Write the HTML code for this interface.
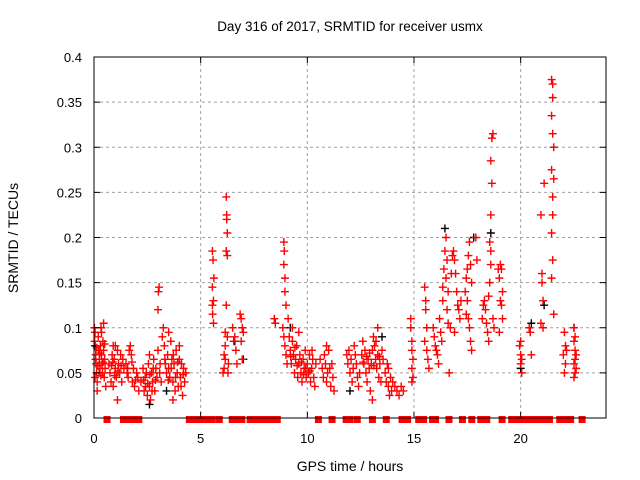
<!DOCTYPE html>
<html><head><meta charset="utf-8"><style>
body{margin:0;background:#fff}
svg{display:block;font-family:"Liberation Sans",sans-serif}
</style></head><body>
<svg id="c" width="640" height="480">
<text x="350" y="31" text-anchor="middle" font-size="13.5">Day 316 of 2017, SRMTID for receiver usmx</text>
<text x="350" y="471" text-anchor="middle" font-size="14">GPS time / hours</text>
<text transform="translate(18,238) rotate(-90)" text-anchor="middle" font-size="14">SRMTID / TECUs</text>
<g id="grid"></g><g id="zeros"></g><g id="black"></g><g id="red"></g><g id="axes"></g>
</svg>
<script>
const xTicks=[0,5,10,15,20];
const yTicks=[0,0.05,0.1,0.15,0.2,0.25,0.3,0.35,0.4];
const yTickLabels=["0","0.05","0.1","0.15","0.2","0.25","0.3","0.35","0.4"];
const zeroStart=[0.61,1.38,1.79,2.10,4.47,5.87,6.48,7.32,10.52,11.16,11.82,12.34,13.05,13.70,14.44,15.22,15.87,16.64,17.27,17.71,18.13,19.13,19.58,21.83,22.88];
const zeroEnd=[0.61,1.50,1.79,2.10,5.54,5.87,6.93,8.59,10.52,11.16,12.00,12.34,13.05,13.70,14.70,15.45,16.01,16.64,17.27,17.71,18.41,19.13,21.35,22.34,22.88];
const redPoints=[
[0.02,.1],[0.05,.095],[0.03,.085],[0.08,.07],[0.1,.06],[0.05,.045],[0.12,.05],[0.15,.04],[0.2,.09],[0.22,.075],[0.25,.065],[0.28,.055],[0.3,.08],[0.33,.1],[0.35,.07],[0.38,.06],[0.4,.05],[0.42,.085],[0.45,.075],[0.48,.045],[0.5,.065],[0.52,.055],[0.55,.035],[0.15,.03],[0.35,.095],[0.45,.105],
[0.07,.065],[0.18,.058],[0.27,.072],[0.32,.047],[0.43,.062],[0.5,.082],[0.13,.078],[0.24,.05],
[0.7,.06],[0.75,.05],[0.8,.04],[0.85,.07],[0.9,.08],[0.95,.065],[1.0,.055],[1.05,.045],[1.1,.075],[1.15,.06],[1.2,.05],[1.25,.07],[1.3,.04],[1.35,.065],[1.4,.055],[0.9,.035],[1.1,.02],[1.0,.08],
[0.82,.058],[0.97,.047],[1.12,.052],[1.27,.058],[0.88,.062],
[1.5,.06],[1.55,.05],[1.6,.045],[1.7,.08],[1.75,.07],[1.8,.04],[1.85,.055],[1.9,.035],[2.0,.05],[2.05,.045],[2.1,.03],[1.65,.075],
[1.58,.055],[1.78,.062],[1.95,.042],
[2.2,.04],[2.3,.055],[2.35,.03],[2.4,.045],[2.5,.025],[2.55,.06],[2.6,.035],[2.65,.02],[2.7,.05],[2.75,.04],[2.8,.065],[2.85,.03],[2.9,.055],[2.95,.045],[3.0,.075],[3.0,.12],[3.02,.14],[3.05,.145],[3.1,.06],[3.15,.04],[3.2,.09],[2.6,.07],[2.45,.05],
[2.32,.042],[2.52,.038],[2.62,.048],[2.72,.03],[2.78,.055],[2.88,.042],[3.08,.05],[2.42,.035],
[3.25,.1],[3.3,.08],[3.35,.06],[3.4,.05],[3.45,.07],[3.5,.055],[3.55,.045],[3.6,.085],[3.65,.065],[3.7,.04],[3.75,.06],[3.8,.03],[3.85,.075],[3.9,.05],[3.95,.035],[4.0,.065],[4.05,.045],[4.1,.06],[4.15,.025],[4.2,.055],[4.25,.04],[4.3,.05],[3.5,.095],[3.7,.02],[4.0,.08],
[3.32,.065],[3.48,.042],[3.62,.055],[3.72,.07],[3.82,.045],[3.92,.062],[4.08,.035],[4.18,.048],
[5.55,.185],[5.58,.175],[5.55,.145],[5.6,.13],[5.56,.115],[5.6,.105],[5.62,.155],[5.55,.125],
[6.05,.05],[6.1,.055],[6.15,.08],[6.15,.065],[6.2,.245],[6.22,.225],[6.22,.22],[6.25,.205],[6.2,.185],[6.25,.18],[6.2,.125],[6.15,.095],[6.25,.09],[6.3,.06],[6.28,.05],[6.1,.07],
[6.5,.1],[6.55,.085],[6.6,.09],[6.65,.075],[6.7,.06],[6.85,.115],[6.9,.11],[6.95,.1],[6.9,.085],[6.95,.065],[7.0,.095],
[8.45,.11],[8.5,.105],[8.9,.195],[8.92,.185],[8.9,.17],[8.95,.155],[8.95,.14],[9.0,.125],[8.85,.1],[8.9,.09],[8.95,.08],[9.0,.07],[9.05,.06],
[9.1,.11],[9.15,.09],[9.2,.075],[9.25,.06],[9.3,.085],[9.35,.07],[9.4,.05],[9.45,.065],[9.5,.08],[9.55,.045],[9.6,.06],[9.65,.07],[9.7,.05],[9.75,.04],[9.8,.065],[9.85,.055],[9.9,.075],[9.95,.045],[10.0,.06],[10.05,.05],[10.1,.07],[10.15,.04],[10.2,.055],[10.25,.065],[10.3,.045],[10.35,.035],[10.4,.06],[9.3,.1],[9.6,.095],
[9.22,.068],[9.42,.078],[9.52,.058],[9.72,.062],[9.92,.055],[10.12,.052],[10.22,.075],[9.82,.048],
[10.6,.065],[10.7,.055],[10.75,.045],[10.8,.07],[10.85,.06],[10.9,.04],[10.95,.05],[11.0,.075],[11.05,.055],[11.1,.035],[11.15,.06],[11.2,.045],[11.25,.03],[10.9,.08],
[11.85,.07],[11.9,.06],[11.95,.075],[12.0,.05],[12.05,.065],[12.1,.04],[12.15,.055],[12.2,.08],[12.25,.07],[12.3,.06],[12.35,.045],[12.4,.035],[12.45,.05],
[12.55,.07],[12.6,.085],[12.65,.06],[12.7,.075],[12.75,.05],[12.8,.04],[12.85,.065],[12.9,.055],[12.95,.03],[13.0,.06],[13.05,.075],[13.1,.09],[13.15,.08],[13.2,.065],[13.25,.055],[13.3,.07],[13.35,.045],[13.4,.06],[13.45,.04],[13.5,.075],[13.55,.065],[13.3,.1],[13.05,.02],
[12.62,.062],[12.78,.068],[12.92,.072],[13.12,.058],[13.22,.085],[13.38,.068],
[13.65,.05],[13.7,.04],[13.75,.06],[13.8,.035],[13.85,.025],[13.9,.045],[13.95,.03],[14.0,.04],[14.1,.035],[14.2,.03],[14.3,.025],[14.4,.035],[14.5,.03],[13.8,.055],
[14.85,.11],[14.85,.1],[14.9,.085],[14.9,.075],[14.95,.065],[14.9,.055],[14.95,.045],[14.9,.04],
[15.5,.145],[15.55,.13],[15.55,.12],[15.6,.1],[15.5,.085],[15.6,.075],[15.65,.065],[15.7,.055],[15.9,.1],[15.95,.09],[16.0,.08],[16.05,.075],[16.1,.07],[16.15,.06],[16.2,.11],[16.25,.095],[16.3,.085],[16.35,.13],[16.35,.145],[16.4,.165],[16.45,.185],[16.5,.2],[16.55,.175],[16.5,.155],[16.6,.14],[16.55,.12],[16.6,.105],[16.65,.05],[16.7,.1],[16.75,.16],[16.8,.18],[16.85,.185],[16.9,.175],[16.95,.16],[17.0,.14],[17.05,.125],[17.1,.12],[17.15,.11],[17.2,.13],[16.9,.095],
[17.4,.14],[17.45,.155],[17.5,.165],[17.55,.18],[17.6,.195],[17.65,.17],[17.7,.15],[17.5,.13],[17.45,.115],[17.55,.11],[17.6,.1],[17.65,.085],[17.7,.075],[17.9,.2],[17.95,.175],
[18.2,.11],[18.25,.125],[18.3,.13],[18.35,.12],[18.4,.105],[18.45,.095],[18.5,.085],[18.55,.15],[18.6,.17],[18.55,.195],[18.6,.225],[18.65,.26],[18.6,.285],[18.65,.31],[18.7,.315],[18.6,.185],[18.5,.135],[18.7,.11],[18.75,.1],
[18.95,.165],[19.0,.155],[19.05,.17],[19.1,.165],[19.15,.14],[19.1,.125],[19.15,.11],[19.05,.13],[19.0,.095],
[19.95,.08],[20.0,.07],[20.05,.065],[20.0,.06],[20.05,.05],[20.0,.085],[20.4,.1],[20.45,.095],[20.5,.07],
[20.95,.225],[21.0,.16],[21.0,.15],[21.05,.13],[20.95,.105],[21.05,.1],[21.1,.26],
[21.45,.375],[21.5,.37],[21.5,.355],[21.45,.335],[21.5,.315],[21.55,.3],[21.45,.275],[21.55,.265],[21.5,.245],[21.5,.225],[21.45,.205],[21.5,.175],[21.45,.155],[21.55,.115],
[22.05,.095],[22.1,.08],[22.15,.075],[22.0,.07],[22.1,.06],[22.05,.05],[22.5,.1],[22.55,.09],[22.5,.085],[22.55,.075],[22.6,.07],[22.55,.065],[22.5,.06],[22.6,.055],[22.55,.05],[22.5,.045]
];
const blackPoints=[[0.05,.08],[2.6,.015],[6.6,.085],[7.0,.065],[13.5,.09],[16.45,.21],[17.8,.2],[18.6,.205],[20.0,.055],[21.1,.125],[20.5,.105],[22.5,.1],[9.2,.1],[3.4,.03],[12.0,.03]];

const L=94,R=606,T=57,B=418,XMAX=24,YMAX=0.4;
const X=t=>L+(R-L)*t/XMAX, Y=v=>B-(B-T)*v/YMAX;
const NS="http://www.w3.org/2000/svg";
function mk(tag,attrs,parent){const e=document.createElementNS(NS,tag);for(const k in attrs)e.setAttribute(k,attrs[k]);parent.appendChild(e);return e;}
const grid=document.getElementById('grid'),axes=document.getElementById('axes');
xTicks.forEach(t=>{
  if(t>0){const g=mk('line',{x1:X(t),x2:X(t),y1:T,y2:B,stroke:'#a0a0a0','stroke-dasharray':'3,3'},grid);
  
  }
  mk('line',{x1:X(t),x2:X(t),y1:B,y2:B-6,stroke:'#000'},axes);
  mk('line',{x1:X(t),x2:X(t),y1:T,y2:T+6,stroke:'#000'},axes);
  const tx=mk('text',{x:X(t),y:B+25,'text-anchor':'middle','font-size':13},axes);tx.textContent=t;
  
  
});
yTicks.forEach((v,i)=>{
  if(v>0&&v<YMAX){const g=mk('line',{x1:L,x2:R,y1:Y(v),y2:Y(v),stroke:'#a0a0a0','stroke-dasharray':'3,3'},grid);
  
  }
  mk('line',{x1:L,x2:L+6,y1:Y(v),y2:Y(v),stroke:'#000'},axes);
  mk('line',{x1:R,x2:R-6,y1:Y(v),y2:Y(v),stroke:'#000'},axes);
  const tx=mk('text',{x:L-12,y:Y(v)+5,'text-anchor':'end','font-size':13},axes);tx.textContent=yTickLabels[i];
  
  
});
const frame=mk('rect',{x:L,y:T,width:R-L,height:B-T,fill:'none',stroke:'#000','stroke-width':1},axes);


const zg=document.getElementById('zeros');
zeroStart.forEach((s,i)=>{
  const r=mk('rect',{x:X(s)-3.5,y:Y(0)-2,width:X(zeroEnd[i])-X(s)+7,height:7,fill:'#f00'},zg);
  
  
});
function plus(p,col,parent,name){
  const x=X(p[0]),y=Y(p[1]);
  const e=mk('path',{d:`M${x-4},${y}H${x+4}M${x},${y-4}V${y+4}`,stroke:col,'stroke-width':1.4,fill:'none'},parent);
  
  
}
blackPoints.forEach(p=>plus(p,'#000',document.getElementById('black'),'black-point'));
redPoints.forEach(p=>plus(p,'#f00',document.getElementById('red'),'red-point'));
</script>
</body></html>
